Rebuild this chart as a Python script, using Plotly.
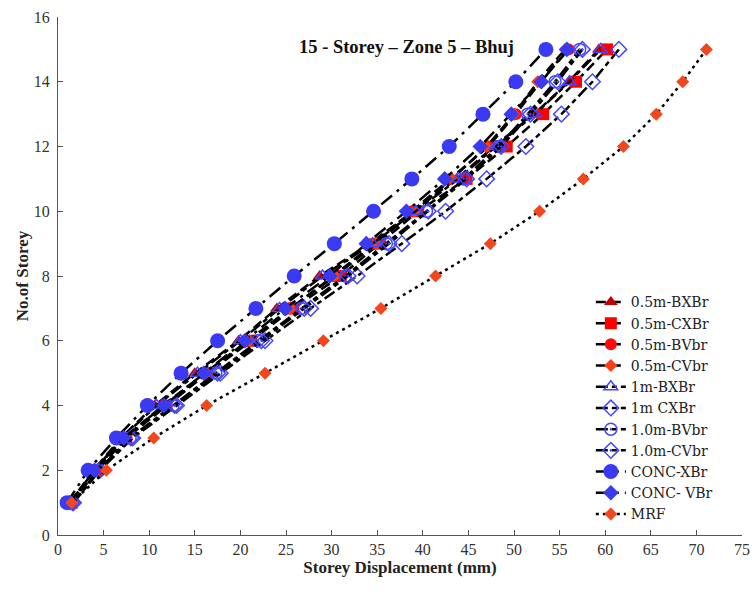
import plotly.graph_objects as go

storeys = list(range(1, 16))

bxbr_05 = [1.3, 3.9, 6.9, 10.6, 15.0, 19.8, 24.0, 28.7, 34.2, 39.0, 43.7, 47.8, 52.2, 56.0, 59.3]
cxbr_05 = [1.5, 4.3, 7.5, 11.9, 16.4, 21.2, 25.8, 31.0, 35.3, 39.5, 44.8, 49.2, 53.2, 56.8, 60.2]
bvbr_05 = [1.4, 4.1, 7.3, 11.5, 16.1, 20.8, 25.4, 30.2, 34.6, 38.8, 43.0, 47.2, 50.2, 52.9, 56.0]
cvbr_05 = [1.5, 4.2, 7.4, 11.8, 16.3, 21.0, 25.5, 30.4, 34.9, 39.1, 43.2, 47.0, 50.0, 52.6, 55.6]
bxbr_1 = [1.3, 4.0, 7.0, 10.8, 15.3, 20.0, 24.3, 29.0, 34.5, 39.2, 43.9, 48.0, 52.3, 56.1, 59.5]
cxbr_1 = [1.7, 4.6, 8.2, 13.0, 17.8, 22.7, 27.7, 32.8, 37.7, 42.5, 47.0, 51.3, 55.2, 58.6, 61.5]
bvbr_1 = [1.6, 4.4, 7.9, 12.6, 17.3, 21.9, 26.7, 31.5, 36.0, 40.4, 44.5, 48.3, 51.5, 54.5, 57.2]
cvbr_1 = [1.6, 4.5, 8.0, 12.8, 17.5, 22.3, 27.0, 31.8, 36.3, 40.6, 44.8, 48.6, 51.8, 54.8, 57.5]
conc_xbr = [1.0, 3.3, 6.4, 9.8, 13.5, 17.5, 21.7, 25.9, 30.3, 34.6, 38.8, 42.9, 46.6, 50.2, 53.5]
conc_vbr = [1.3, 4.0, 7.2, 11.6, 16.0, 20.5, 24.9, 29.8, 33.8, 38.2, 42.4, 46.3, 49.7, 53.0, 55.8]
mrf = [1.5, 5.3, 10.5, 16.3, 22.7, 29.1, 35.4, 41.4, 47.4, 52.8, 57.6, 62.0, 65.6, 68.5, 71.1]

x_ticks = list(range(0, 80, 5))
y_ticks = list(range(0, 18, 2))

BLUE = "#3a3af2"
OPENBLUE = "#4646ff"

series = [
    ("0.5m-BXBr", bxbr_05, dict(symbol="triangle-up", size=12, color="#c00000"), "10px,5px"),
    ("0.5m-CXBr", cxbr_05, dict(symbol="square", size=12, color="#ff0000"), "10px,5px"),
    ("0.5m-BVbr", bvbr_05, dict(symbol="circle", size=12, color="#ff0a0a"), "10px,5px"),
    ("0.5m-CVbr", cvbr_05, dict(symbol="diamond", size=10, color="#ff3c14"), "10px,5px"),
    ("1m-BXBr", bxbr_1, dict(symbol="triangle-up-open", size=12, color=OPENBLUE, line=dict(width=1.5)), "12px,4px,5px,4px"),
    ("1m CXBr", cxbr_1, dict(symbol="diamond-open", size=12, color=OPENBLUE, line=dict(width=1.5)), "12px,4px,5px,4px"),
    ("1.0m-BVbr", bvbr_1, dict(symbol="circle-open-dot", size=12, color=OPENBLUE, line=dict(width=1.5)), "12px,4px,5px,4px"),
    ("1.0m-CVbr", cvbr_1, dict(symbol="diamond-open-dot", size=12, color=OPENBLUE, line=dict(width=1.5)), "12px,4px,5px,4px"),
    ("CONC-XBr", conc_xbr, dict(symbol="circle", size=15, color=BLUE), "14px,6px,3px,6px"),
    ("CONC- VBr", conc_vbr, dict(symbol="diamond", size=12, color=BLUE), "14px,6px,3px,6px"),
    ("MRF", mrf, dict(symbol="diamond", size=10, color="#f4461c"), "3px,4px"),
]

fig = go.Figure()
for name, xs, marker, dash in series:
    fig.add_trace(go.Scatter(
        x=xs, y=storeys, name=name, mode="lines+markers",
        line=dict(color="black", width=2.5, dash=dash),
        marker=marker,
    ))

fig.update_layout(
    width=752, height=592,
    margin=dict(l=58, r=10, t=17, b=57, autoexpand=False),
    plot_bgcolor="white", paper_bgcolor="white",
    font=dict(family="Liberation Serif", size=16, color="#333333"),
    showlegend=True,
    legend=dict(x=0.779, y=0.48, xanchor="left", yanchor="top",
                bgcolor="rgba(0,0,0,0)", font=dict(family="DejaVu Serif", size=14, color="#222222"),
                itemwidth=30, tracegroupgap=0),
    annotations=[dict(text="<b>15 - Storey – Zone 5 – Bhuj</b>", x=0.349, y=0.942,
                      xref="paper", yref="paper", xanchor="left", yanchor="middle",
                      showarrow=False, font=dict(size=18.5, color="#111111"))],
)
fig.update_xaxes(range=[0, 75], tickvals=x_ticks, showgrid=False, zeroline=False, automargin=False,
                 showline=True, linecolor="#555555", linewidth=1,
                 ticks="inside", ticklen=5, tickcolor="#555555",
                 title=dict(text="<b>Storey Displacement (mm)</b>", font=dict(size=17, color="#222222"), standoff=0))
fig.update_yaxes(range=[0, 16], tickvals=y_ticks, showgrid=False, zeroline=False, automargin=False,
                 showline=True, linecolor="#555555", linewidth=1,
                 ticks="inside", ticklen=5, tickcolor="#555555", ticklabelstandoff=4,
                 title=dict(text="<b>No.of Storey</b>", font=dict(size=17, color="#222222"), standoff=0))

fig.write_html("out.html", config={"displayModeBar": False},
               post_script="document.body.style.margin='0';document.body.style.overflow='hidden';")
